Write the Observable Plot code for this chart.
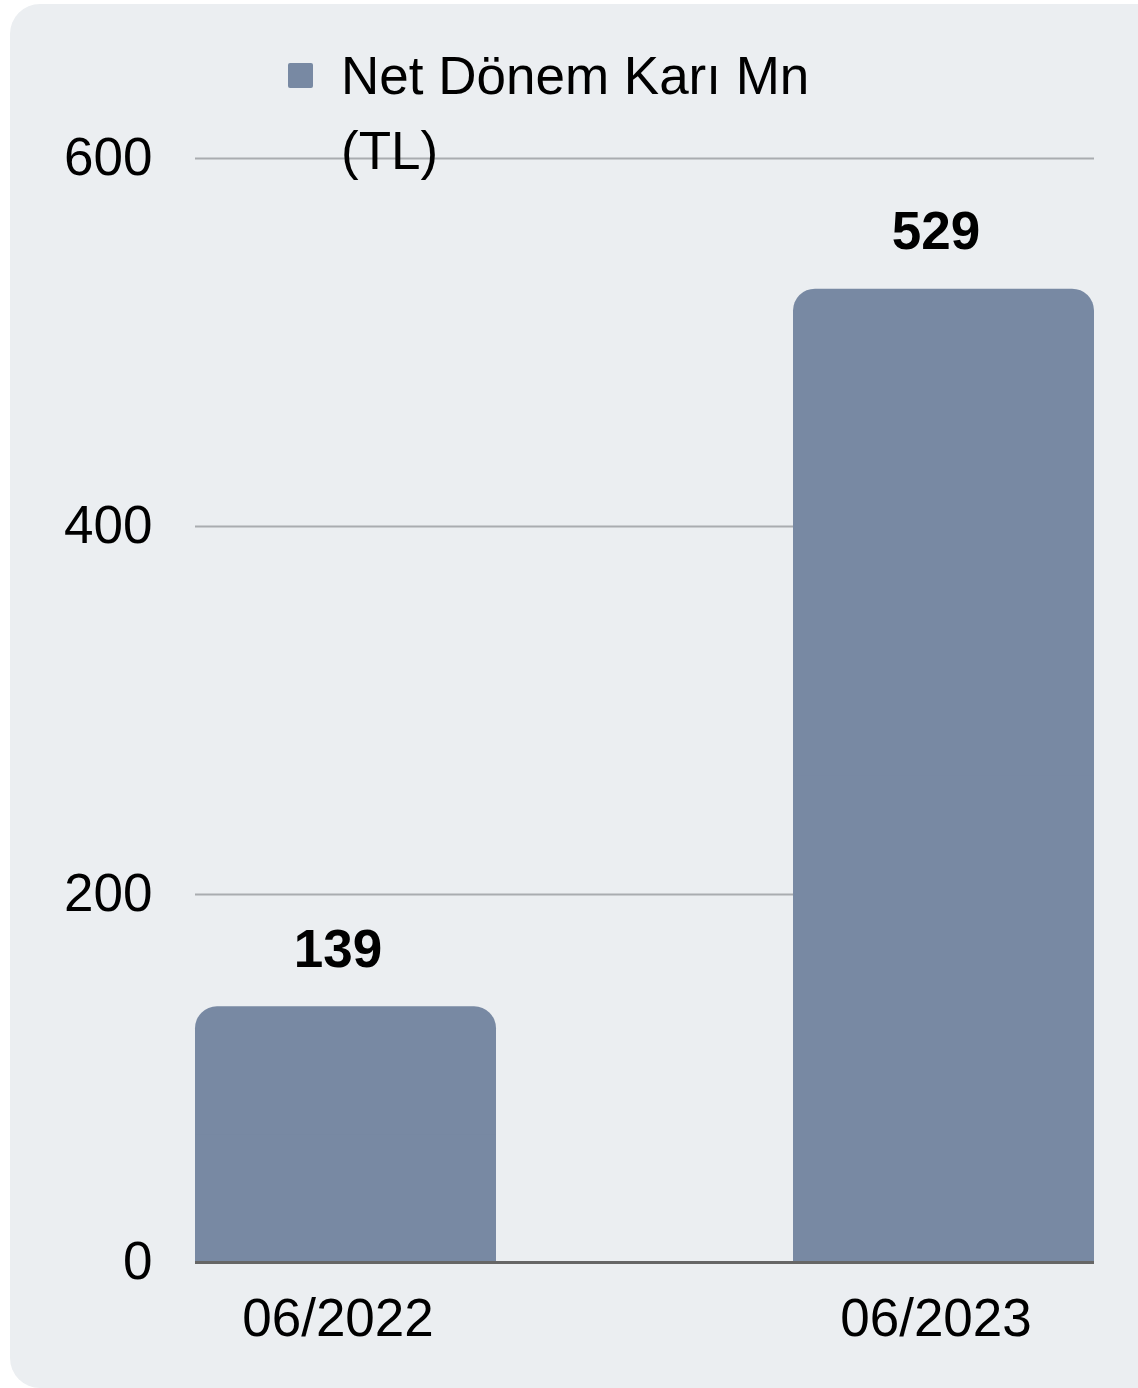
<!DOCTYPE html>
<html>
<head>
<meta charset="utf-8">
<script src="https://cdn.jsdelivr.net/npm/d3@7"></script>
<script src="https://cdn.jsdelivr.net/npm/@observablehq/plot@0.6"></script>
<style>
  html, body { margin: 0; padding: 0; background: #ffffff; width: 1138px; height: 1388px; overflow: hidden; font-family: "Liberation Sans", Arial, sans-serif; }
  #panel { position: absolute; left: 10px; top: 4px; width: 1160px; height: 1384px; background: #ebeef1; border-radius: 30px; }
  #chart { position: absolute; left: 0; top: 0; }
  #legend { position: absolute; left: 288px; top: 38px; width: 580px; font-size: 53px; line-height: 75px; color: #000; }
  #legend .sw { position: absolute; left: 0; top: 25px; width: 25px; height: 25px; border-radius: 2px; background: #7889a3; }
  #legend .tx { margin-left: 53px; width: 500px; }
</style>
</head>
<body>
<div id="panel"></div>
<div id="chart"></div>
<div id="legend"><div class="sw"></div><div class="tx">Net Dönem Karı Mn (TL)</div></div>
<script>
const categories = ["06/2022", "06/2023"];
const values = [139, 529];
const yTicks = [0, 200, 400, 600];
const seriesName = "Net Dönem Karı Mn (TL)";

const data = categories.map((c, i) => ({category: c, value: values[i]}));
const barColor = "#7889a3";

const chart = Plot.plot({
  width: 1138,
  height: 1388,
  marginLeft: 195,
  marginRight: 44,
  marginTop: 158,
  marginBottom: 126,
  style: {background: "transparent", fontFamily: "'Liberation Sans', Arial, sans-serif", fontSize: "53px", color: "#000"},
  x: {domain: categories, padding: 0.497, paddingOuter: 0, align: 0.5, label: null},
  y: {domain: [0, 600], ticks: yTicks, label: null},
  marks: [
    Plot.gridY(yTicks.filter(t => t > 0), {stroke: "#a9acb0", strokeOpacity: 1, strokeWidth: 2}),
    Plot.barY(data, {x: "category", y: "value", fill: barColor, rx: 22}),
    Plot.barY(data, {x: "category", y: d => d.value / 2, fill: barColor}),
    Plot.ruleY([0], {stroke: "#666666", strokeWidth: 3}),
    Plot.text(data, {x: "category", y: "value", text: d => String(d.value), fontWeight: "bold", fontSize: 53, lineAnchor: "bottom", dy: -40, dx: -8, fill: "#000"}),
    Plot.axisY({ticks: yTicks, tickSize: 0, tickPadding: 43, fontSize: 53, fill: "#000"}),
    Plot.axisX({tickSize: 0, tickPadding: 36, fontSize: 53, dx: -8, fill: "#000"})
  ]
});
document.getElementById("chart").appendChild(chart);
</script>
</body>
</html>
